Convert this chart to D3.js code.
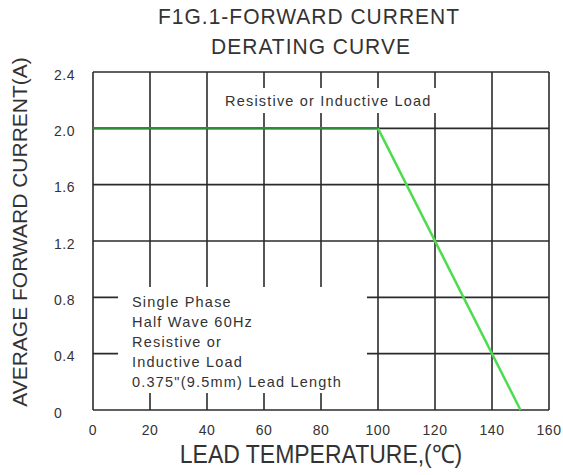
<!DOCTYPE html>
<html>
<head>
<meta charset="utf-8">
<script src="https://cdn.jsdelivr.net/npm/d3@7"></script>
<style>
  body { margin: 0; background: #fff; }
  text { font-family: "Liberation Sans", Arial, sans-serif; fill: #333; }
</style>
</head>
<body>
<div id="chart"></div>
<script>
const xTicks = [0, 20, 40, 60, 80, 100, 120, 140, 160];
const yTicks = [0, 0.4, 0.8, 1.2, 1.6, 2.0, 2.4];
const yTickLabels = ["0", "0.4", "0.8", "1.2", "1.6", "2.0", "2.4"];
const flatPart = [[0, 2.0], [100, 2.0]];
const deratePart = [[100, 2.0], [150, 0]];
const noteLines = ["Single Phase", "Half Wave 60Hz", "Resistive or", "Inductive Load", "0.375\"(9.5mm) Lead Length"];

const width = 563, height = 475;
const plotL = 93, plotR = 549, plotT = 72, plotB = 410;

const svg = d3.select("#chart").append("svg")
  .attr("width", width).attr("height", height);

const x = d3.scaleLinear().domain([0, 160]).range([plotL, plotR]);
const y = d3.scaleLinear().domain([0, 2.4]).range([plotB, plotT]);

// grid
const grid = svg.append("g").attr("stroke", "#2b2b2b").attr("stroke-width", 1.6);
grid.selectAll("line.v").data(xTicks).join("line")
  .attr("x1", d => x(d)).attr("x2", d => x(d))
  .attr("y1", plotT).attr("y2", plotB);
grid.selectAll("line.h").data(yTicks).join("line")
  .attr("x1", plotL).attr("x2", plotR)
  .attr("y1", d => y(d)).attr("y2", d => y(d));

// white boxes behind the notes
svg.append("rect").attr("x", 215).attr("y", 88).attr("width", 224).attr("height", 25).attr("fill", "#fff");
svg.append("rect").attr("x", 118).attr("y", 287).attr("width", 249).attr("height", 106).attr("fill", "#fff");

// curve
const line = d3.line().x(d => x(d[0])).y(d => y(d[1]));
svg.append("path").datum(flatPart).attr("d", line)
  .attr("fill", "none").attr("stroke", "#2f8a3a").attr("stroke-width", 2.5);
svg.append("path").datum(deratePart).attr("d", line)
  .attr("fill", "none").attr("stroke", "#4ddc4d").attr("stroke-width", 2.5);

// tick labels
svg.selectAll("text.yt").data(yTicks).join("text")
  .attr("x", 54).attr("y", d => y(d) + 7.5)
  .attr("font-size", 14).attr("letter-spacing", 0.5)
  .text((d, i) => yTickLabels[i]);
svg.selectAll("text.xt").data(xTicks).join("text")
  .attr("x", d => x(d)).attr("y", 435)
  .attr("text-anchor", "middle").attr("font-size", 14).attr("letter-spacing", 0.5)
  .text(d => d);

// notes
svg.append("text").attr("x", 225).attr("y", 106)
  .attr("font-size", 14.5).attr("letter-spacing", 1.2)
  .text("Resistive or Inductive Load");
svg.selectAll("text.note").data(noteLines).join("text")
  .attr("x", 132).attr("y", (d, i) => 307 + i * 20)
  .attr("font-size", 14.5).attr("letter-spacing", 1.2)
  .text(d => d);

// titles
svg.append("text").attr("transform", "translate(309,24) scale(1,1.08)")
  .attr("text-anchor", "middle").attr("font-size", 21).attr("letter-spacing", 1)
  .text("F1G.1-FORWARD CURRENT");
svg.append("text").attr("transform", "translate(311,54) scale(1,1.08)")
  .attr("text-anchor", "middle").attr("font-size", 21).attr("letter-spacing", 1)
  .text("DERATING CURVE");
svg.append("text").attr("transform", "translate(321,463) scale(1,1.1)")
  .attr("text-anchor", "middle").attr("font-size", 23)
  .text("LEAD TEMPERATURE,(℃)");
svg.append("text")
  .attr("transform", "translate(27,232) rotate(-90)")
  .attr("text-anchor", "middle").attr("font-size", 21)
  .text("AVERAGE FORWARD CURRENT(A)");
</script>
</body>
</html>
